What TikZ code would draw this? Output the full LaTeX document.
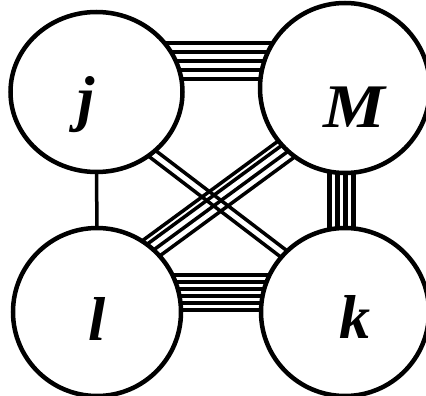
\documentclass[tikz,border=0pt]{standalone}
\usepackage{fontspec}
\setmainfont{Liberation Serif}
\usetikzlibrary{calc,shapes.geometric,backgrounds}
\begin{document}
\begin{tikzpicture}[x=1pt,y=-1pt,
  ball/.style={draw=black,fill=white,line width=4.5pt,ellipse,inner sep=0pt},
  lab/.style={anchor=base,inner sep=0pt,font=\fontsize{62}{62}\selectfont\bfseries\itshape},
  bond/.style={draw=black,line width=4.5pt},
  thin bond/.style={draw=black,line width=3.5pt}]
\useasboundingbox (0,0) rectangle (426,396);
\node[ball,minimum width=172pt,minimum height=160pt] (j) at (96.5,92) {};
\node[ball,minimum width=170pt,minimum height=170pt] (M) at (345,88) {};
\node[ball,minimum width=168pt,minimum height=168pt] (l) at (97,312) {};
\node[ball,minimum width=168pt,minimum height=168pt] (k) at (345,312) {};
\node[lab] (tj) at (86,120) {j};
\node[lab,xscale=1.12] (tM) at (354,128) {M};
\node[lab] (tl) at (97,340) {l};
\node[lab] (tk) at (355,338) {k};
\begin{scope}[on background layer]
  \fill[white] (0,0) rectangle (426,396);
  % j -- M : five lines
  \foreach \y in {43,52,61,70,79}
    \draw[bond] (j.center |- 0,\y) -- (M.center |- 0,\y);
  % M -- k : four lines
  \foreach \x in {329.5,337.5,345.5,353.5}
    \draw[bond] (\x,0 |- M.center) -- (\x,0 |- k.center);
  % l -- k : six lines
  \foreach \y in {275,282,289,296,303,310}
    \draw[thin bond] (l.center |- 0,\y) -- (k.center |- 0,\y);
  % j -- l : single line
  \draw[thin bond] (j.center) -- (l.center);
  % j -- k : two lines
  \foreach \d in {0,11}
    \draw[thin bond] ($(j.center)+(0,13.5+\d)$) -- ($(k.center)+(0,-17+\d)$);
  % l -- M : four lines
  \foreach \d in {0,7,17.5,28}
    \draw[thin bond] ($(l.center)+(0,-38+\d)$) -- ($(M.center)+(0,4+\d)$);
\end{scope}
\end{tikzpicture}
\end{document}
